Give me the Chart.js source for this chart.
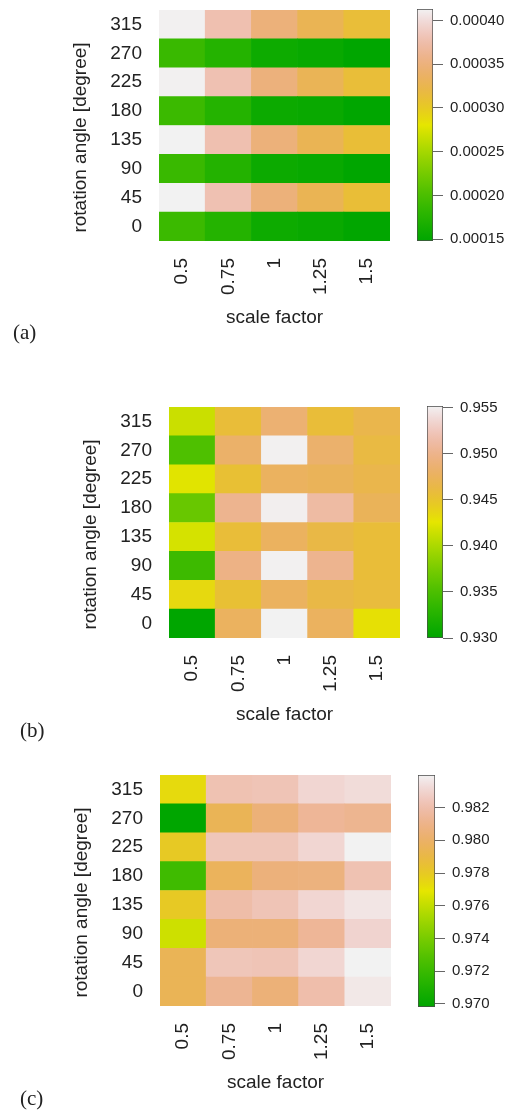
<!DOCTYPE html>
<html>
<head>
<meta charset="utf-8">
<script src="https://cdn.jsdelivr.net/npm/chart.js@4.4.1/dist/chart.umd.min.js"></script>
<style>
  html, body { margin: 0; padding: 0; background: #fff; }
  body { position: relative; width: 508px; height: 1115px; overflow: hidden; }
  canvas { position: absolute; }
  .tag { position: absolute; font-family: "Liberation Serif", serif; font-size: 21px; line-height: 24px; color: #222; }
</style>
</head>
<body>
<canvas id="heatA"></canvas><canvas id="barA"></canvas>
<canvas id="heatB"></canvas><canvas id="barB"></canvas>
<canvas id="heatC"></canvas><canvas id="barC"></canvas>
<div class="tag" style="left:13px;top:320px">(a)</div>
<div class="tag" style="left:20px;top:718px">(b)</div>
<div class="tag" style="left:20px;top:1086px">(c)</div>
<script>
// rows go bottom to top (angles), columns left to right (scale factors)
const angles = ['0', '45', '90', '135', '180', '225', '270', '315'];
const scaleFactors = ['0.5', '0.75', '1', '1.25', '1.5'];

// (a)
const valuesA = [
  [0.000190, 0.000175, 0.000158, 0.000155, 0.000149],
  [0.000413, 0.000379, 0.000349, 0.000328, 0.000312],
  [0.000189, 0.000174, 0.000157, 0.000154, 0.000148],
  [0.000413, 0.000378, 0.000349, 0.000328, 0.000312],
  [0.000190, 0.000175, 0.000157, 0.000155, 0.000148],
  [0.000412, 0.000379, 0.000350, 0.000329, 0.000313],
  [0.000189, 0.000175, 0.000158, 0.000154, 0.000148],
  [0.000412, 0.000378, 0.000349, 0.000328, 0.000313]
];
const ticksA = [0.00015, 0.00020, 0.00025, 0.00030, 0.00035, 0.00040];

// (b)
const valuesB = [
  [0.9300, 0.9477, 0.9552, 0.9477, 0.9429],
  [0.9434, 0.9454, 0.9477, 0.9464, 0.9459],
  [0.9341, 0.9497, 0.9551, 0.9502, 0.9457],
  [0.9419, 0.9457, 0.9477, 0.9464, 0.9457],
  [0.9366, 0.9502, 0.9550, 0.9512, 0.9474],
  [0.9424, 0.9454, 0.9477, 0.9474, 0.9467],
  [0.9351, 0.9482, 0.9551, 0.9484, 0.9462],
  [0.9414, 0.9457, 0.9487, 0.9457, 0.9467]
];
const ticksB = [0.930, 0.935, 0.940, 0.945, 0.950, 0.955];

// (c)
const valuesC = [
  [0.9795, 0.9813, 0.9805, 0.9820, 0.9837],
  [0.9795, 0.9824, 0.9823, 0.9831, 0.9840],
  [0.9763, 0.9805, 0.9805, 0.9814, 0.9830],
  [0.9780, 0.9819, 0.9823, 0.9831, 0.9836],
  [0.9722, 0.9797, 0.9806, 0.9807, 0.9822],
  [0.9780, 0.9824, 0.9824, 0.9831, 0.9840],
  [0.9698, 0.9795, 0.9805, 0.9814, 0.9812],
  [0.9773, 0.9822, 0.9823, 0.9831, 0.9833]
];
const ticksC = [0.970, 0.972, 0.974, 0.976, 0.978, 0.980, 0.982];

const ink = '#222';
const family = '"Liberation Sans", Arial, sans-serif';

// R terrain.colors, continuous version
function terrain(t) {
  t = Math.min(1, Math.max(0, t));
  let h, s, v;
  if (t < 0.5) {
    const u = t / 0.5;
    h = 120 - 60 * u; s = 1; v = 0.65 + 0.25 * u;
  } else {
    const u = (t - 0.5) / 0.5;
    h = 60 - 60 * u; s = 1 - u; v = 0.9 + 0.05 * u;
  }
  const c = v * s, x = c * (1 - Math.abs((h / 60) % 2 - 1)), m = v - c;
  let r, g, b;
  if (h >= 60) { r = x; g = c; b = 0; } else { r = c; g = x; b = 0; }
  return 'rgb(' + Math.round((r + m) * 255) + ',' + Math.round((g + m) * 255) + ',' + Math.round((b + m) * 255) + ')';
}

const yTitle = {
  id: 'yTitle',
  afterDraw(chart, args, opts) {
    const { ctx, chartArea } = chart;
    ctx.save();
    ctx.translate(chartArea.left - 78, (chartArea.top + chartArea.bottom) / 2 + 12);
    ctx.rotate(-Math.PI / 2);
    ctx.font = '19px ' + family;
    ctx.fillStyle = ink;
    ctx.textAlign = 'center';
    ctx.textBaseline = 'middle';
    ctx.fillText(opts.text, 0, 0);
    ctx.restore();
  }
};

// fixed axis boxes so the cells land where the original has them
function fixBox(s, w, h) {
  if (w !== null) s.width = w;
  if (h !== null) s.height = h;
  s.paddingTop = 0; s.paddingBottom = 0; s.paddingLeft = 0; s.paddingRight = 0;
}

function drawPanel(heatId, barId, values, ticks, digits, box) {
  let lo = Infinity, hi = -Infinity;
  values.forEach(r => r.forEach(v => { lo = Math.min(lo, v); hi = Math.max(hi, v); }));
  const colorOf = v => terrain((v - lo) / (hi - lo));
  const font = { family, size: 19 };

  const heat = document.getElementById(heatId);
  const H = 10 + 231 + 100;
  heat.width = box.left + 231 + 10;
  heat.height = H;
  heat.style.left = '0px';
  heat.style.top = (box.top - 10) + 'px';

  new Chart(heat, {
    type: 'bar',
    data: {
      labels: scaleFactors,
      datasets: values.map((row, j) => ({
        data: row.map(() => [j - 0.5, j + 0.5]),
        backgroundColor: row.map(colorOf),
        borderWidth: 0,
        barPercentage: 1,
        categoryPercentage: 1,
        grouped: false
      }))
    },
    options: {
      responsive: false,
      animation: false,
      layout: { padding: { top: 10, right: 10, left: 0, bottom: 0 } },
      plugins: {
        legend: { display: false },
        tooltip: { enabled: false },
        yTitle: { text: 'rotation angle [degree]' }
      },
      scales: {
        x: {
          grid: { display: false, drawTicks: false },
          border: { display: false },
          ticks: { minRotation: 90, maxRotation: 90, padding: 17, color: ink, font, autoSkip: false },
          title: { display: true, text: 'scale factor', color: ink, font, padding: { top: 0, bottom: 12 } },
          afterFit: s => fixBox(s, null, 100)
        },
        y: {
          min: -0.5,
          max: 7.5,
          grid: { display: false, drawTicks: false },
          border: { display: false },
          afterBuildTicks: s => { s.ticks = angles.map((a, i) => ({ value: i })); },
          ticks: { padding: 17, color: ink, font, autoSkip: false, callback: v => angles[v] },
          afterFit: s => fixBox(s, box.left, null)
        }
      }
    },
    plugins: [yTitle]
  });

  const bar = document.getElementById(barId);
  const bw = 508 - (box.cbLeft - 10);
  bar.width = bw;
  bar.height = box.cbBottom - box.cbTop + 20;
  bar.style.left = (box.cbLeft - 10) + 'px';
  bar.style.top = (box.cbTop - 10) + 'px';

  new Chart(bar, {
    type: 'bar',
    data: {
      labels: [''],
      datasets: [{
        data: [[lo, hi]],
        backgroundColor: ctx => {
          const a = ctx.chart.chartArea;
          if (!a) return colorOf(hi);
          const g = ctx.chart.ctx.createLinearGradient(0, a.bottom, 0, a.top);
          for (let i = 0; i <= 40; i++) g.addColorStop(i / 40, terrain(i / 40));
          return g;
        },
        borderColor: '#4a4a4a',
        borderWidth: 1,
        borderSkipped: false,
        barPercentage: 1,
        categoryPercentage: 1
      }]
    },
    options: {
      responsive: false,
      animation: false,
      layout: { padding: { left: 10, top: 10, bottom: 10, right: 0 } },
      plugins: { legend: { display: false }, tooltip: { enabled: false } },
      scales: {
        x: { display: false },
        y: {
          position: 'right',
          min: lo,
          max: hi,
          grid: { drawOnChartArea: false, drawTicks: true, tickLength: 10, color: '#666', lineWidth: 1 },
          border: { display: false },
          afterBuildTicks: s => { s.ticks = ticks.map(v => ({ value: v })); },
          ticks: { padding: 7, color: ink, font: { family, size: 15 }, autoSkip: false, callback: v => v.toFixed(digits) },
          afterFit: s => fixBox(s, bw - 10 - box.cbWidth, null)
        }
      }
    }
  });
}

drawPanel('heatA', 'barA', valuesA, ticksA, 5, { left: 159, top: 10, cbLeft: 417, cbTop: 9, cbBottom: 241, cbWidth: 16 });
drawPanel('heatB', 'barB', valuesB, ticksB, 3, { left: 169, top: 407, cbLeft: 427, cbTop: 406, cbBottom: 638, cbWidth: 16 });
drawPanel('heatC', 'barC', valuesC, ticksC, 3, { left: 160, top: 775, cbLeft: 418, cbTop: 775, cbBottom: 1007, cbWidth: 17 });
</script>
</body>
</html>
